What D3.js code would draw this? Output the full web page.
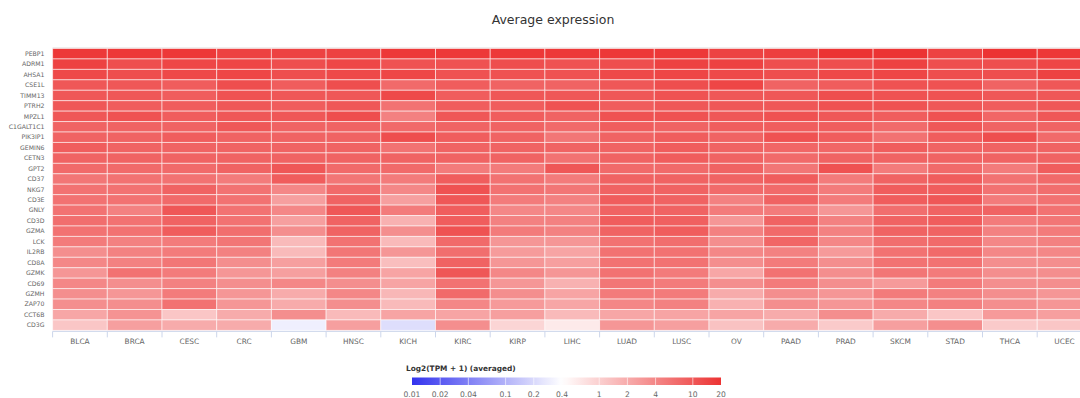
<!DOCTYPE html>
<html><head><meta charset="utf-8">
<script src="https://cdn.jsdelivr.net/npm/d3@7"></script>
<style>body{margin:0;background:#fff;} svg{display:block;font-family:"DejaVu Sans",sans-serif;}</style>
</head><body>
<svg id="c" width="1080" height="398"></svg>
<script>
const cancers = ["BLCA","BRCA","CESC","CRC","GBM","HNSC","KICH","KIRC","KIRP","LIHC","LUAD","LUSC","OV","PAAD","PRAD","SKCM","STAD","THCA","UCEC"];
const genes = ["PEBP1","ADRM1","AHSA1","CSE1L","TIMM13","PTRH2","MPZL1","C1GALT1C1","PIK3IP1","GEMIN6","CETN3","GPT2","CD37","NKG7","CD3E","GNLY","CD3D","GZMA","LCK","IL2RB","CD8A","GZMK","CD69","GZMH","ZAP70","CCT6B","CD3G"];
// values per gene (row), in cancer order
const PEBP1     = [18,18,18,15,15,15,18,18,18,18,18,18,15,16,20,20,15,20,18];
const ADRM1     = [15,12,14,14,12,14,11,11,12,11,12,15,15,12,12,15,12,12,14];
const AHSA1     = [13,12,13,14,12,13,14,11,11,11,13,14,13,12,13,14,12,12,15];
const CSE1L     = [10,10,9,12,9,12,7,9,8,8,10,12,14,8,9,11,11,8,10];
const TIMM13    = [10,10,9,11,10,10,13,9,10,10,10,11,10,10,12,11,11,10,10];
const PTRH2     = [10,9,9,10,9,10,6,9,9,11,9,10,10,10,11,11,10,9,10];
const MPZL1     = [10,11,9,10,10,12,4.5,10,9,8,11,11,10,11,10,9,11,7.5,10];
const C1GALT1C1 = [8,8,8,10,8,8,7,8,8,7,9,8,9,9,9,7,10,8,8];
const PIK3IP1   = [8,8,9,8,8,8,12,9,8,5.5,8,9,8,11,9,6,9,12,7];
const GEMIN6    = [9,8,8,8,8,8,6,8,8,8,8,9,8,7.5,7.5,9,8,8,8];
const CETN3     = [8,8,8,8,8,8,8,8,8,6,8,9,8,7,8,8,8,8,8];
const GPT2      = [7,7,7,8,10,7,7,5,5,10,7,7,8,5.5,11,5,7,5,9];
const CD37      = [5.5,6,6,5,9,5.5,5,9,6,5,8,8,8,9,5,8,9,6,7];
const NKG7      = [6,6,8,6,4,7,4,11,6,5.5,8,8,7,7,5,9,9,6,6.5];
const CD3E      = [6,6,7,6,2.5,8,2.5,10,5,4.5,9,8,4.5,8,5,9,10,5,6];
const GNLY      = [6,4.5,10,6,4,10,5,9,4,4,8,8,5,5,3,6.5,8,8,6];
const CD3D      = [6.5,6,8,6,2.5,8,1.8,9,4.5,4.5,9,8.5,3,8,4.5,8,9,5,5.5];
const GZMA      = [6,6,9,6.5,3.5,8,3.5,11,5,4.5,8,9,4.5,7,4.5,8,8,4.5,5];
const LCK       = [5,4.5,5,5.5,1.5,6,1.5,7,3,3,6,6.5,3.5,7.5,4,6.5,7,4,4.5];
const IL2RB     = [3.5,4.5,5,4.5,1.5,5.5,3,6.5,2.7,2.3,6,6,4,4.5,2.8,6,7,4,4];
const CD8A      = [4,4.5,5.5,3.5,2.5,5,1.4,8,3,2.5,6,6,3.5,5,3.5,6,6,3.5,3.5];
const GZMK      = [3,6,5,3,2.5,4.5,2.3,10,4,3,6,5,2.2,6,3.5,5.5,5,3.5,3.5];
const CD69      = [4,3.5,4.5,3.5,4,3.5,2.3,6,3,1.8,5.5,5,3.5,5,3.5,2.8,5,3.5,3.5];
const GZMH      = [3.5,3,5,3,2,4,1.6,7,3.5,2.3,5,5,2,3.5,3,5,4.5,3.5,3];
const ZAP70     = [3.5,3.5,6,3,2,3.5,1.5,4,2.8,2.2,4,4.5,1.8,3.5,3,4,4.5,3.5,3];
const CCT6B     = [2.2,3.2,1.2,2,3.5,1.5,2.3,2.3,2.5,1.5,2.2,2.3,2.3,2,3.5,2,1.2,2.8,2.5];
const CD3G      = [1.2,2.5,2,2,0.3,2.5,0.22,3.5,0.9,0.6,3,2.5,1.3,2,1.1,2.5,3.5,1.1,1.2];
const rows = [PEBP1,ADRM1,AHSA1,CSE1L,TIMM13,PTRH2,MPZL1,C1GALT1C1,PIK3IP1,GEMIN6,CETN3,GPT2,CD37,NKG7,CD3E,GNLY,CD3D,GZMA,LCK,IL2RB,CD8A,GZMK,CD69,GZMH,ZAP70,CCT6B,CD3G];
const legendTicks = [0.01,0.02,0.04,0.1,0.2,0.4,1,2,4,10,20];
const titleText = "Average expression";
const legendTitle = "Log2(TPM + 1) (averaged)";

const svg = d3.select("#c");
const plot = {left:52.6, top:48.5, colW:54.7, rowH:10.44};
const x = d3.scaleBand().domain(cancers).range([plot.left, plot.left + plot.colW*cancers.length]).padding(0);
const y = d3.scaleBand().domain(genes).range([plot.top, plot.top + plot.rowH*genes.length]).padding(0);
const color = d3.scaleLog().domain([0.01,0.4,20]).range(["#3333ee","#ffffff","#ec3333"]).interpolate(d3.interpolateRgb).clamp(true);

const cells = [];
genes.forEach((g,i)=>cancers.forEach((c,j)=>cells.push({g,c,v:rows[i][j]})));

svg.append("text").attr("x",553).attr("y",24).attr("text-anchor","middle")
  .attr("font-size",12.5).attr("fill","#333").text(titleText);

svg.append("line").attr("x1",plot.left).attr("x2",1080).attr("y1",plot.top-0.5).attr("y2",plot.top-0.5)
  .attr("stroke","#dddddd").attr("stroke-width",1);

svg.append("g").selectAll("rect").data(cells).join("rect")
  .attr("x",d=>x(d.c)).attr("y",d=>y(d.g))
  .attr("width",x.bandwidth()).attr("height",y.bandwidth())
  .attr("fill",d=>color(d.v))
  .attr("stroke","rgba(255,255,255,0.55)").attr("stroke-width",1);

// y labels
svg.append("g").selectAll("text").data(genes).join("text")
  .attr("x",44.5).attr("y",d=>y(d)+y.bandwidth()/2).attr("dy","0.35em")
  .attr("text-anchor","end").attr("font-size",6.2).attr("fill","#666").text(d=>d);

// x axis
const xa = svg.append("g").attr("transform",`translate(0,${plot.top+plot.rowH*genes.length+1})`);
xa.append("line").attr("x1",plot.left).attr("x2",1092).attr("stroke","#ccd6eb");
xa.selectAll("line.t").data(d3.range(cancers.length+1)).join("line").attr("class","t")
  .attr("x1",i=>plot.left+i*plot.colW).attr("x2",i=>plot.left+i*plot.colW).attr("y1",0).attr("y2",6).attr("stroke","#ccd6eb");
xa.selectAll("text").data(cancers).join("text")
  .attr("x",d=>x(d)+x.bandwidth()/2).attr("y",13).attr("text-anchor","middle")
  .attr("font-size",7.4).attr("fill","#666").text(d=>d);

// legend
const lg = svg.append("g");
const lx = d3.scaleLog().domain([0.01,20]).range([412,721]);
lg.append("text").attr("x",406).attr("y",371).attr("font-size",7.4).attr("font-weight","bold").attr("fill","#333").text(legendTitle);
const defs = svg.append("defs");
const grad = defs.append("linearGradient").attr("id","lgrad").attr("x1","0%").attr("x2","100%");
d3.range(0,1.0001,0.02).forEach(t=>{
  const v = lx.invert(412 + t*309);
  grad.append("stop").attr("offset",(t*100)+"%").attr("stop-color",color(v));
});
lg.append("rect").attr("x",412).attr("y",377.5).attr("width",309).attr("height",7.5).attr("fill","url(#lgrad)");
lg.selectAll("line").data(legendTicks.slice(1,-1)).join("line")
  .attr("x1",d=>lx(d)).attr("x2",d=>lx(d)).attr("y1",377.5).attr("y2",385)
  .attr("stroke","rgba(255,255,255,0.6)").attr("stroke-width",1);
lg.selectAll("text.t").data(legendTicks).join("text").attr("class","t")
  .attr("x",d=>lx(d)).attr("y",397).attr("text-anchor","middle")
  .attr("font-size",7.6).attr("fill","#666").text(d=>d);
</script>
</body></html>
